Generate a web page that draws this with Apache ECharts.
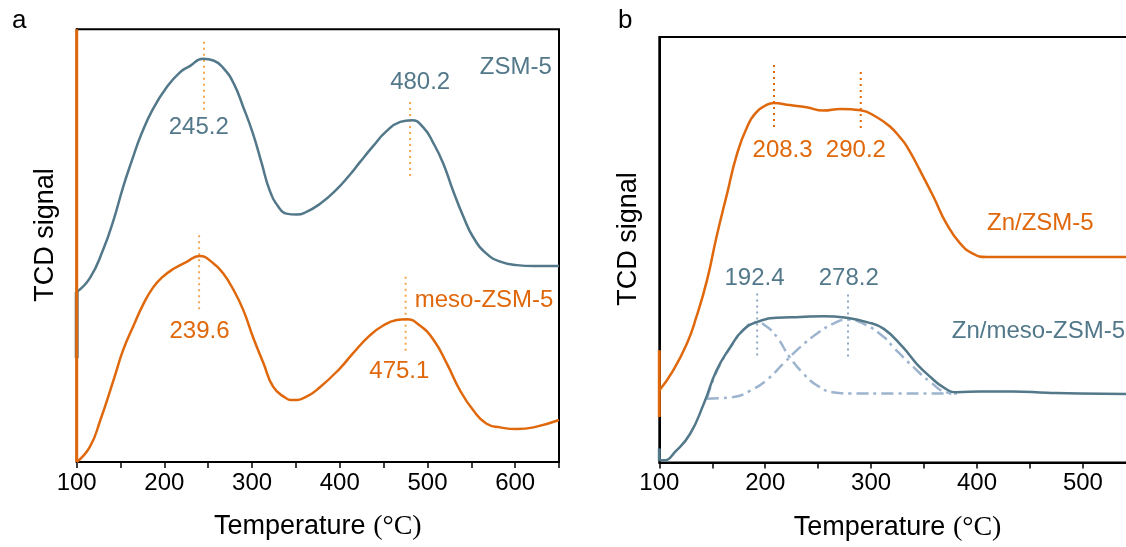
<!DOCTYPE html>
<html>
<head>
<meta charset="utf-8">
<script src="https://cdn.jsdelivr.net/npm/echarts@6/dist/echarts.min.js"></script>
<style>html,body{margin:0;padding:0;background:#fff}#c{width:1126px;height:547px}</style>
</head>
<body>
<div id="c"></div>
<script>
// ---------- DATA (x = temperature °C, y = relative TCD signal) ----------
const xTicksA = [100, 200, 300, 400, 500, 600];
const xTicksB = [100, 200, 300, 400, 500];

// panel a
const zsm5 = [[100,39.3],[115,42.5],[130,49],[142,55.9],[153,63.6],[163,69.7],[174,75.9],[187,81.6],[203,86.7],[218,90.1],[229,91.5],[244,93.2],[256,92.8],[267,91.1],[279,87.5],[290,82],[301,75.9],[311,69],[320,62.8],[330,59],[339,57.4],[351,57.2],[362,57.8],[377,59.6],[393,62.3],[412,66.5],[423,69.3],[438,73],[453,76.4],[469,78.6],[482,79],[495,77.4],[507,73.6],[518,69],[529,62.8],[541,56.7],[552,52],[567,48.2],[583,46.3],[602,45.5],[621,45.3],[650,45.3]];
const zsm5Spike = [[100,24],[100,39.3]];
const mesoZsm5 = [[100,0],[115,3.5],[127,9.7],[142,18.9],[153,25.9],[165,31.6],[176,36.5],[187,40.3],[197,42.6],[210,44.6],[225,46.2],[240,47.6],[256,45.9],[267,43.6],[279,39.7],[290,35.1],[301,28.9],[313,22.8],[324,17.4],[336,15.1],[347,14.3],[362,15.1],[377,17.2],[400,21.6],[415,25.1],[434,29.2],[450,31.6],[465,32.8],[476,33],[491,31.6],[507,28.2],[522,22.8],[537,16.6],[552,12],[567,8.9],[583,8],[602,7.6],[621,8],[650,9.7]];
const mesoSpike = [[100,0],[100,100]];
const peakLinesA = [[245.2,97.1,80.6],[480.2,83.2,65.9],[239.6,52.4,35.1],[475.1,42.8,25.5]];
const labelsA = [
  ['245.2',239.2,77.4,'blue','center'],['480.2',491.7,87.8,'blue','center'],['ZSM-5',600.7,91.3,'blue','center'],
  ['239.6',240,30.1,'orange','center'],['475.1',467.9,20.9,'orange','center'],['meso-ZSM-5',564.6,37.4,'orange','center']
];

// panel b
const znZsm5 = [[100,16.9],[113,21.6],[126,27.9],[135,34.2],[145,42.8],[154,53],[164,63.2],[173,72.2],[183,78.9],[192,82.4],[201,84],[208,84.5],[223,84],[239,83.5],[255,82.7],[271,83.1],[290,82.8],[305,81.2],[318,78.9],[327,76.5],[334,74.2],[346,68.7],[359,62.4],[371,56.2],[384,51.5],[396,49.1],[409,48.3],[550,48.3]];
const znZsm5Spike = [[100,26.4],[100,10.7]];
const znMeso = [[100,0.5],[104,0.5],[116,2.8],[129,6.7],[142,13.8],[154,21.6],[167,27.1],[179,31.1],[192,33],[211,34],[233,34.2],[255,34.4],[277,34],[296,33],[312,31.4],[330,27.1],[343,23.2],[356,20.1],[368,17.7],[381,16.5],[403,16.7],[434,16.7],[466,16.4],[497,16.2],[550,16.1]];
const znMesoSpike = [[100,0.5],[100,3.3]];
const fitPeak1 = [[145,15],[154,21.3],[167,27],[179,31],[192,33],[201,32],[211,29.5],[223,24.8],[236,20.9],[249,18.1],[264,16.5],[280,16.2],[320,16.2],[381,16.2]];
const fitPeak2 = [[145,15],[170,15.4],[186,16.9],[201,19.3],[217,23.2],[233,27.1],[249,30.3],[264,32.6],[278,33.6],[293,32.6],[312,29.5],[321,27.1],[340,22.4],[356,18.9],[371,16.5],[381,16.2]];
const peakLinesBOrange = [[208.3,93.4,78.1],[290.2,91.8,78.1]];
const peakLinesBBlue = [[192.4,39.7,24.8],[278.2,39.5,24.6]];
const labelsB = [
  ['208.3',216.4,73.4,'orange','center'],['290.2',285.6,73.4,'orange','center'],
  ['192.4',189.9,43.2,'blue','center'],['278.2',278.9,43.2,'blue','center'],
  ['Zn/ZSM-5',459.8,56.2,'orange','center'],['Zn/meso-ZSM-5',376.1,30.7,'blue','left']
];

// ---------- STYLE ----------
const SANS = '"Liberation Sans", Arial, sans-serif';
const SERIF = '"Liberation Serif", "Times New Roman", serif';
const C = { blue: '#52788a', orange: '#e0680c', dotA: '#f7a64c', dotBlue: '#8ea8c3', fit: '#9db4cf' };

const chart = echarts.init(document.getElementById('c'), null, { renderer: 'canvas' });

function xAxis(gi, max, ticks) {
  return {
    type: 'value', gridIndex: gi, min: 100, max: max, interval: 50,
    axisLine: { show: true, onZero: false, lineStyle: { color: '#000', width: 2 } },
    axisTick: { show: true, inside: false, length: 6, lineStyle: { color: '#000', width: 1.5 } },
    axisLabel: { formatter: v => ticks.includes(v) ? String(v) : '', fontSize: 24, color: '#000', fontFamily: SANS, margin: 9 },
    splitLine: { show: false },
    name: '{s|Temperature }{t|(°C)}', nameLocation: 'middle', nameGap: 51,
    nameTextStyle: { rich: { s: { fontFamily: SANS, fontSize: 27, color: '#000' }, t: { fontFamily: SERIF, fontSize: 28, color: '#000' } } }
  };
}
function yAxis(gi) {
  return {
    type: 'value', gridIndex: gi, min: 0, max: 100,
    axisLine: { show: true, onZero: false, lineStyle: { color: '#000', width: 2 } },
    axisTick: { show: false }, axisLabel: { show: false }, splitLine: { show: false }
  };
}
function curve(gi, data, color, extra) {
  return Object.assign({
    type: 'line', xAxisIndex: gi, yAxisIndex: gi, data: data, showSymbol: false, symbol: 'none',
    smooth: 0.5, lineStyle: { color: color, width: 2.5 }, silent: true, z: 3
  }, extra || {});
}
function vlines(gi, list, color, width) {
  return list.map(p => ({
    type: 'line', xAxisIndex: gi, yAxisIndex: gi, data: [[p[0], p[1]], [p[0], p[2]]],
    symbol: 'none', lineStyle: { color: color, width: width, type: [2, 4] }, silent: true, z: 2
  }));
}
function labels(gi, list) {
  return {
    type: 'scatter', xAxisIndex: gi, yAxisIndex: gi, symbolSize: 0, silent: true, clip: false, z: 5,
    itemStyle: { opacity: 1 },
    data: list.map(l => ({
      value: [l[1], l[2]],
      label: { show: true, formatter: l[0], position: [0, 0], align: l[4], verticalAlign: 'middle',
               color: C[l[3]], opacity: 1, fontSize: 24, fontFamily: SANS }
    }))
  };
}

const option = {
  animation: false,
  backgroundColor: '#fff',
  grid: [
    { left: 76.7, top: 29.3, width: 482.3, height: 432.7, show: true, borderColor: '#000', borderWidth: 2,
      containLabel: false, outerBoundsMode: 'none' },
    { left: 659.3, top: 37, width: 476.6, height: 425.5, show: true, borderColor: '#000', borderWidth: 2,
      containLabel: false, outerBoundsMode: 'none' }
  ],
  xAxis: [xAxis(0, 650, xTicksA), xAxis(1, 550, xTicksB)],
  yAxis: [yAxis(0), yAxis(1)],
  graphic: [
    { type: 'text', left: 12, top: 8, style: { text: 'a', fontSize: 26, fontFamily: SANS, fill: '#000' } },
    { type: 'text', left: 618, top: 8, style: { text: 'b', fontSize: 26, fontFamily: SANS, fill: '#000' } },
    { type: 'text', x: 46, y: 235, rotation: Math.PI / 2,
      style: { text: 'TCD signal', fontSize: 27, fontFamily: SANS, fill: '#000', textAlign: 'center', textVerticalAlign: 'middle' } },
    { type: 'text', x: 629, y: 239, rotation: Math.PI / 2,
      style: { text: 'TCD signal', fontSize: 27, fontFamily: SANS, fill: '#000', textAlign: 'center', textVerticalAlign: 'middle' } }
  ],
  series: [
    ...vlines(0, peakLinesA, C.dotA, 2),
    curve(0, zsm5, C.blue),
    curve(0, zsm5Spike, C.blue, { smooth: false, clip: false, lineStyle: { color: C.blue, width: 4 } }),
    curve(0, mesoZsm5, C.orange),
    curve(0, mesoSpike, C.orange, { smooth: false, clip: false, lineStyle: { color: C.orange, width: 3 } }),
    labels(0, labelsA),

    ...vlines(1, peakLinesBOrange, C.orange, 2),
    ...vlines(1, peakLinesBBlue, C.dotBlue, 2),
    curve(1, fitPeak1, C.fit, { lineStyle: { color: C.fit, width: 2.5, type: [12, 5, 3, 5] }, z: 2 }),
    curve(1, fitPeak2, C.fit, { lineStyle: { color: C.fit, width: 2.5, type: [12, 5, 3, 5] }, z: 2 }),
    curve(1, znZsm5, C.orange),
    curve(1, znZsm5Spike, C.orange, { smooth: false, clip: false, lineStyle: { color: C.orange, width: 3 } }),
    curve(1, znMeso, C.blue),
    curve(1, znMesoSpike, C.blue, { smooth: false, clip: false, lineStyle: { color: C.blue, width: 3 } }),
    labels(1, labelsB)
  ]
};
chart.setOption(option);
</script>
</body>
</html>
